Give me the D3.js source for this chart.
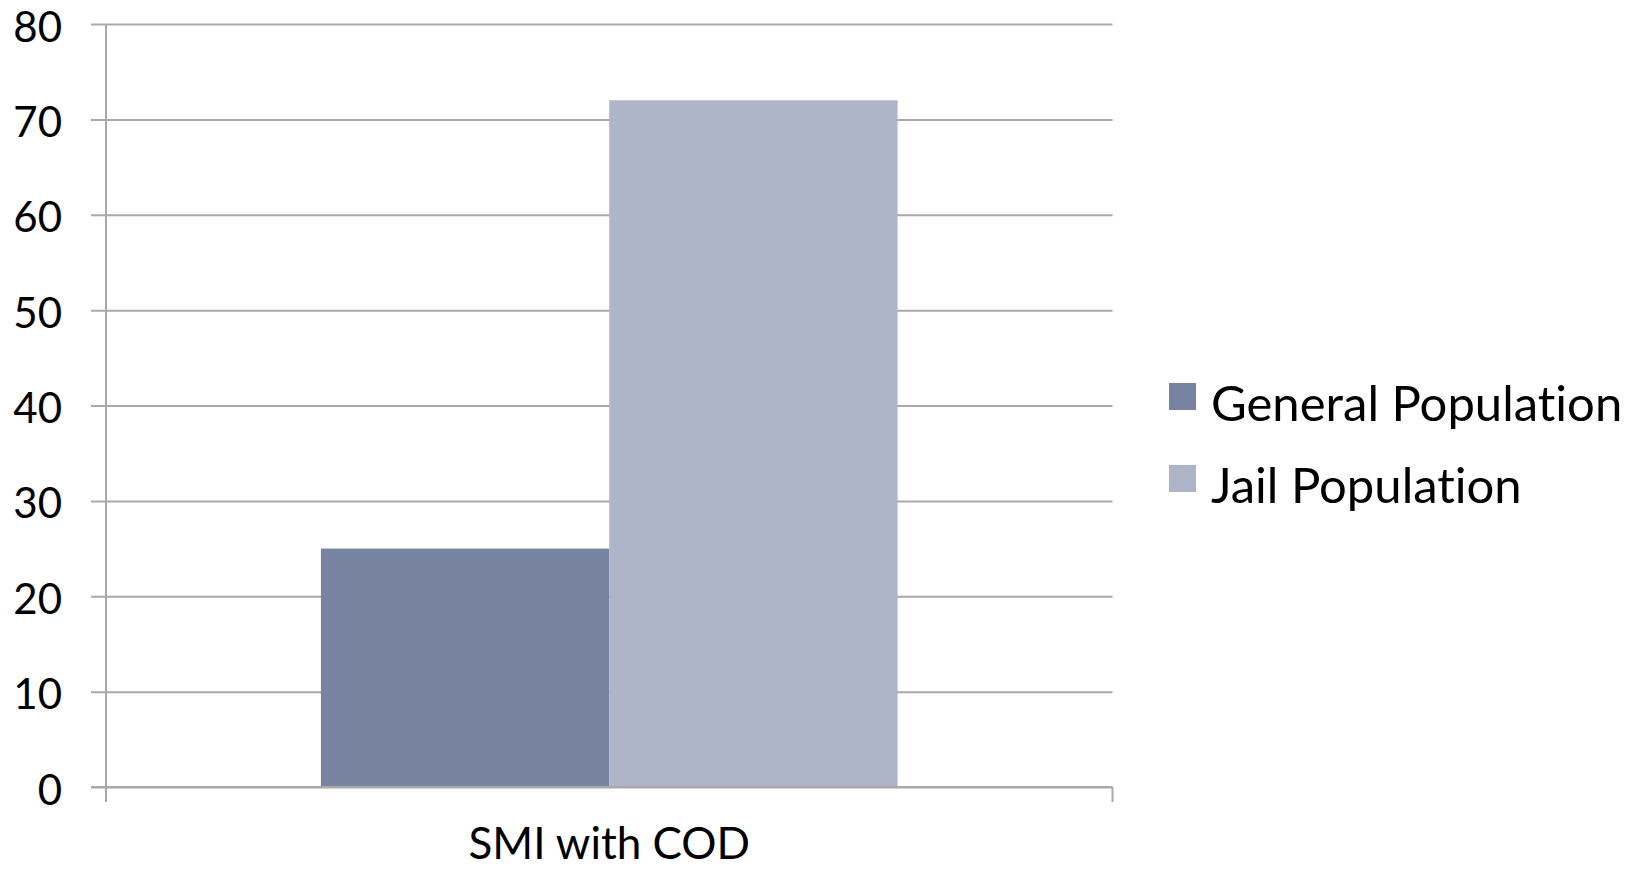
<!DOCTYPE html>
<html>
<head>
<meta charset="utf-8">
<script src="https://cdn.jsdelivr.net/npm/d3@7"></script>
<style>
  html, body { margin: 0; padding: 0; background: #fff; }
  svg { display: block; }
  text { font-family: "Gill Sans", "Lato", "Open Sans", sans-serif; fill: #000; font-variant-ligatures: none; }
</style>
</head>
<body>
<svg id="chart" width="1643" height="870"></svg>
<script>
// Data
const categories = ["SMI with COD"];
const seriesNames = ["General Population", "Jail Population"];
const generalPopulation = [25];
const jailPopulation = [72];
const yTicks = [0, 10, 20, 30, 40, 50, 60, 70, 80];
const seriesColors = ["#7883A2", "#AFB5C9"];

const rows = categories.map((c, i) => ({
  category: c,
  values: [
    { series: seriesNames[0], value: generalPopulation[i] },
    { series: seriesNames[1], value: jailPopulation[i] }
  ]
}));

const svg = d3.select("#chart");
const plot = { left: 106, right: 1112.5, top: 24, bottom: 787 };
const gridColor = "#A9A9A9";

const y = d3.scaleLinear().domain([0, 80]).range([plot.bottom, plot.top]);
const x0 = d3.scaleBand().domain(categories).range([plot.left, plot.right]).padding(0.2715);
const x1 = d3.scaleBand().domain(seriesNames).range([0, x0.bandwidth()]).padding(0);
const color = d3.scaleOrdinal().domain(seriesNames).range(seriesColors);

// Horizontal gridlines with short ticks left of the axis
const yAxis = d3.axisLeft(y).tickValues(yTicks).tickSize(-(plot.right - plot.left)).tickSizeOuter(0);
const gy = svg.append("g").attr("transform", `translate(${plot.left},0)`).call(yAxis);
gy.select(".domain").remove();
gy.selectAll(".tick line")
  .attr("x1", -15)
  .attr("stroke", gridColor)
  .attr("stroke-width", 2);
gy.selectAll(".tick text")
  .attr("x", -44)
  .attr("dy", null)
  .attr("y", 17)
  .style("font-size", "42px")
  .style("font-family", "'Gill Sans', Lato, sans-serif")
  .attr("fill", "#000");

// Bars
const groups = svg.append("g").selectAll("g").data(rows).join("g")
  .attr("transform", d => `translate(${x0(d.category)},0)`);
groups.selectAll("rect").data(d => d.values).join("rect")
  .attr("x", d => x1(d.series))
  .attr("width", x1.bandwidth())
  .attr("y", d => y(d.value))
  .attr("height", d => y(0) - y(d.value))
  .attr("fill", d => color(d.series));

// Baseline redrawn over the bars
svg.append("line")
  .attr("x1", plot.left - 15).attr("x2", plot.right)
  .attr("y1", y(0)).attr("y2", y(0))
  .attr("stroke", gridColor).attr("stroke-width", 2);

// Vertical axis and category boundary ticks
svg.append("line")
  .attr("x1", plot.left).attr("x2", plot.left)
  .attr("y1", plot.top).attr("y2", plot.bottom + 15)
  .attr("stroke", gridColor).attr("stroke-width", 2);
const xAxis = d3.axisBottom(x0).tickSize(0).tickPadding(0);
const gx = svg.append("g").attr("transform", `translate(0,${plot.bottom})`).call(xAxis);
gx.select(".domain").remove();
gx.selectAll(".tick text")
  .attr("y", 72)
  .attr("dy", null)
  .style("font-size", "44px")
  .style("font-family", "'Gill Sans', Lato, sans-serif")
  .attr("fill", "#000");
svg.append("line")
  .attr("x1", plot.right).attr("x2", plot.right)
  .attr("y1", plot.bottom).attr("y2", plot.bottom + 15)
  .attr("stroke", gridColor).attr("stroke-width", 2);

// Legend
const legend = svg.append("g").attr("transform", "translate(1169,383)");
const items = legend.selectAll("g").data(seriesNames).join("g")
  .attr("transform", (d, i) => `translate(0,${i * 82})`);
items.append("rect")
  .attr("width", 27).attr("height", 27)
  .attr("fill", d => color(d));
items.append("text")
  .attr("x", 42).attr("y", 38)
  .style("font-size", "49px")
  .text(d => d);
</script>
</body>
</html>
